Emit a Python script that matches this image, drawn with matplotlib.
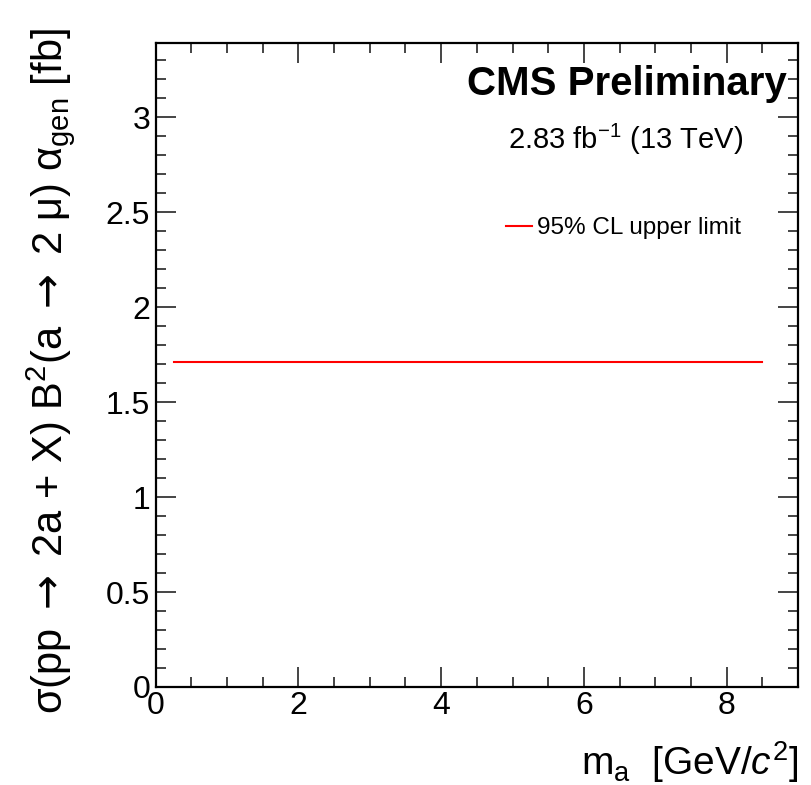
import matplotlib
matplotlib.use('Agg')
import matplotlib.pyplot as plt
from matplotlib.ticker import MultipleLocator

plt.rcParams['font.family'] = ['Liberation Sans', 'DejaVu Sans']
plt.rcParams['mathtext.fontset'] = 'custom'
plt.rcParams['mathtext.rm'] = 'Liberation Sans'
plt.rcParams['mathtext.it'] = 'Liberation Sans:italic'
plt.rcParams['mathtext.sf'] = 'DejaVu Sans'

# data
mass = [0.25, 8.5]
limit = [1.71, 1.71]
xticks = [0, 2, 4, 6, 8]
yticks = [0, 0.5, 1, 1.5, 2, 2.5, 3]
ytick_labels = ['0', '0.5', '1', '1.5', '2', '2.5', '3']

fig = plt.figure(figsize=(8.11, 7.85), dpi=100)
ax = fig.add_axes([155.7/811, 1-687/785, (798-155.7)/811, (687-43)/785])

ax.plot(mass, limit, color='#ff0000', lw=1.5, label='95% CL upper limit')

ax.set_xlim(0, 9)
ax.set_ylim(0, 3.39)
ax.set_xticks(xticks)
ax.set_yticks(yticks)
ax.set_yticklabels(ytick_labels)
ax.xaxis.set_minor_locator(MultipleLocator(0.5))
ax.yaxis.set_minor_locator(MultipleLocator(0.1))
ax.tick_params(which='both', direction='in', top=True, right=True, labelsize=23, width=1.4, color='#444444')
ax.tick_params(which='major', length=14.5)
ax.tick_params(which='minor', length=7.2)
ax.tick_params(axis='x', pad=3)
ax.tick_params(axis='y', pad=4)
for s in ax.spines.values():
    s.set_linewidth(1.6)

arrow = r'$\mathsf{\rightarrow}$'
ax.set_xlabel(r'm$_{\mathrm{a}}$  [GeV/$c^{2}$]', fontsize=28, loc='right')
ax.xaxis.set_label_coords(1.0, -0.081)
ax.set_ylabel('σ(pp ' + arrow + ' 2a + X) B$^{2}$(a ' + arrow + ' 2 μ) α$_{\mathrm{gen}}$ [fb]',
              fontsize=30, loc='top')
ax.yaxis.set_label_coords(-0.122, 1.023)

ax.text(0.983, 0.937, 'CMS Preliminary', transform=ax.transAxes, ha='right', va='center',
        fontsize=29, fontweight='bold')
ax.text(0.731, 0.85, '2.83 fb$^{-1}$ (13 TeV)', transform=ax.transAxes, ha='center', va='center',
        fontsize=21)

ax.legend(loc='center left', bbox_to_anchor=(0.545, 0.712), frameon=False, fontsize=17.5,
          handlelength=1.1, handletextpad=0.2, borderaxespad=0, borderpad=0)

fig.savefig('out.png', dpi=100)
